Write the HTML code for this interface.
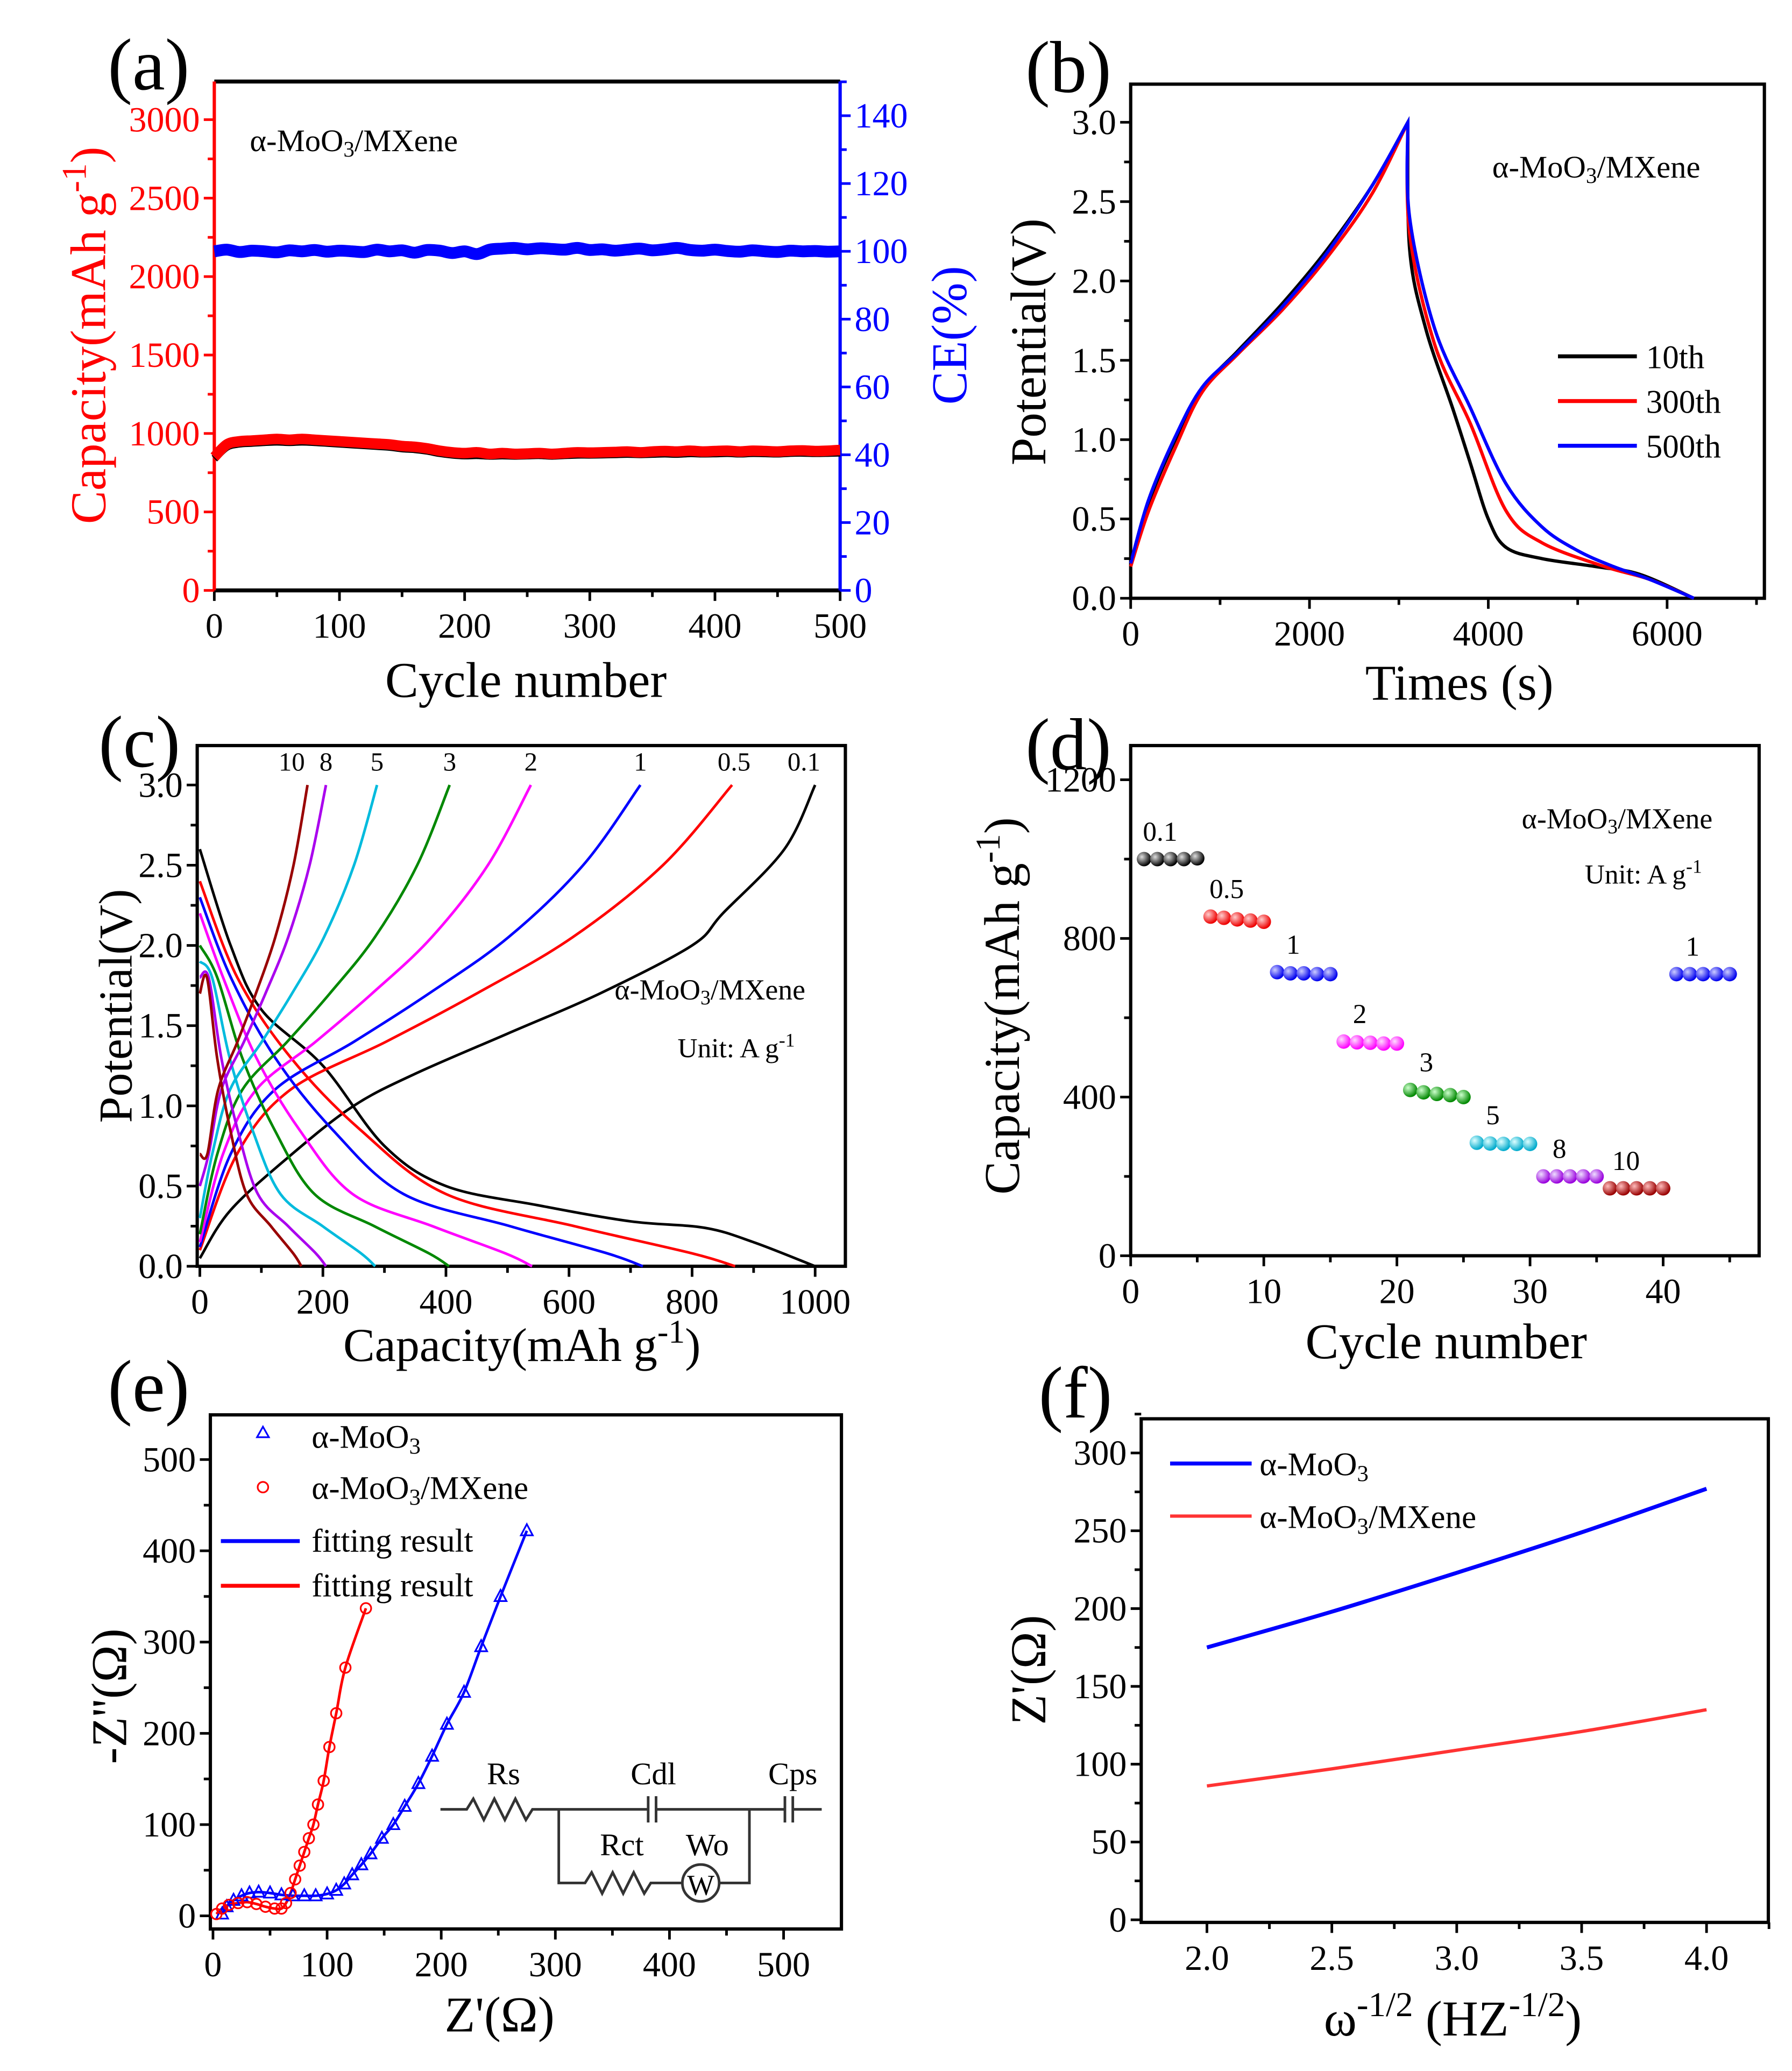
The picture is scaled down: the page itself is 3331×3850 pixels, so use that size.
<!DOCTYPE html>
<html><head><meta charset="utf-8">
<style>
html,body{margin:0;padding:0;background:#fff;}
svg{display:block;}
text{font-family:"Liberation Serif",serif;}
</style></head>
<body>
<svg id="fig" width="3331" height="3850" viewBox="0 0 1363 1575" preserveAspectRatio="none" xmlns="http://www.w3.org/2000/svg">
<defs>
<radialGradient id="gk" cx="35%" cy="35%" r="65%"><stop offset="0" stop-color="#ddd"/><stop offset="1" stop-color="#000"/></radialGradient>
<radialGradient id="gr" cx="35%" cy="35%" r="65%"><stop offset="0" stop-color="#fcc"/><stop offset="1" stop-color="#e00"/></radialGradient>
<radialGradient id="gb" cx="35%" cy="35%" r="65%"><stop offset="0" stop-color="#ccf"/><stop offset="1" stop-color="#00e"/></radialGradient>
<radialGradient id="gm" cx="35%" cy="35%" r="65%"><stop offset="0" stop-color="#fdf"/><stop offset="1" stop-color="#f0f"/></radialGradient>
<radialGradient id="gg" cx="35%" cy="35%" r="65%"><stop offset="0" stop-color="#cfc"/><stop offset="1" stop-color="#080"/></radialGradient>
<radialGradient id="gc" cx="35%" cy="35%" r="65%"><stop offset="0" stop-color="#dff"/><stop offset="1" stop-color="#0ac"/></radialGradient>
<radialGradient id="gp" cx="35%" cy="35%" r="65%"><stop offset="0" stop-color="#edf"/><stop offset="1" stop-color="#90d"/></radialGradient>
<radialGradient id="gd" cx="35%" cy="35%" r="65%"><stop offset="0" stop-color="#fbb"/><stop offset="1" stop-color="#900"/></radialGradient>
</defs>
<g id="root"></g>
</svg>
<script>
// ---------- DATA ----------
// (a)
const aCycles = [0,10,20,30,40,50,60,70,80,90,100,110,120,130,140,150,160,170,180,190,200,210,220,230,240,250,260,270,280,290,300,310,320,330,340,350,360,370,380,390,400,410,420,430,440,450,460,470,480,490,500];
const aCapRed = [850,930,950,955,960,965,960,965,960,955,950,945,940,935,930,920,915,905,890,880,875,880,870,875,870,872,875,870,875,880,878,880,882,885,880,885,888,885,890,885,888,890,885,890,888,885,890,892,888,890,895];
const aCapBlack = [840,915,935,940,945,948,945,948,945,940,935,930,925,920,915,905,900,890,875,865,860,862,858,860,858,860,862,858,862,865,865,866,868,870,868,870,872,870,874,872,873,875,872,875,874,872,876,877,875,876,878];
const aCE = [100,100.5,99.8,100.2,100,99.7,100.3,100,100.4,99.9,100.2,100,99.8,100.5,100,100.3,99.6,100.4,100.2,99.5,100,99.2,100.5,100.8,101,100.6,100.9,100.7,100.5,101,100.4,100.6,100.2,100.5,100.8,100.3,100.6,101,100.4,100.2,100.5,100.1,99.9,100.3,100,99.8,100.2,100,100.1,99.9,100];
// (b)
const bChargeT = [0,200,500,800,1200,1700,2200,2700,3100];
const bChargeV10 = [0.2,0.6,1.0,1.32,1.56,1.86,2.2,2.6,3.0];
const bChargeV300 = [0.2,0.55,0.95,1.3,1.54,1.82,2.15,2.55,3.0];
const bChargeV500 = [0.22,0.62,1.02,1.33,1.55,1.84,2.18,2.6,3.0];
const bDisT10 = [3100,3120,3300,3600,3800,4000,4200,4600,5200,5700,6300];
const bDisV10 = [3.0,2.2,1.7,1.2,0.85,0.5,0.32,0.25,0.2,0.15,0];
const bDisT300 = [3100,3120,3400,3800,4200,4600,5300,5800,6300];
const bDisV300 = [3.0,2.3,1.6,1.1,0.55,0.35,0.2,0.12,0];
const bDisT500 = [3100,3120,3400,3800,4200,4600,5000,5400,5800,6300];
const bDisV500 = [3.0,2.4,1.7,1.2,0.72,0.45,0.3,0.2,0.12,0];
// (c)
const cRates = ["0.1","0.5","1","2","3","5","8","10"];
const cColors = ["#000","#f00","#00f","#f0f","#080","#0bd","#a0e","#900"];
const cChargeCap = [1000,865,716,538,406,288,205,175];
const cDisCap = [1000,870,720,540,405,285,205,165];
const cChargeStartV = [0.05,0.1,0.12,0.15,0.2,0.3,0.5,0.7];
const cDisStartV = [2.6,2.4,2.3,2.2,2.0,1.9,1.8,1.7];
const cBlackChargeF = [0,0.05,0.15,0.25,0.35,0.5,0.65,0.8,0.85,0.95,1];
const cBlackChargeV = [0.05,0.35,0.7,1.0,1.2,1.45,1.7,2.0,2.2,2.6,3.0];
const cBlackDisF = [0,0.05,0.1,0.2,0.3,0.4,0.55,0.7,0.82,0.9,1];
const cBlackDisV = [2.6,2.0,1.6,1.25,0.75,0.5,0.38,0.28,0.24,0.15,0];
const cChargeF = [0,0.07,0.17,0.35,0.52,0.7,0.87,1];
const cChargeV = [0.1,0.7,1.1,1.4,1.7,2.05,2.5,3.0];
const cDisF = [0,0.07,0.17,0.3,0.46,0.7,0.92,1];
const cDisV = [2.4,1.8,1.3,0.85,0.45,0.25,0.08,0];
// (d)
const dCycles = [1,2,3,4,5,6,7,8,9,10,11,12,13,14,15,16,17,18,19,20,21,22,23,24,25,26,27,28,29,30,31,32,33,34,35,36,37,38,39,40,41,42,43,44,45];
const dCap = [1000,1000,1000,1000,1002,855,852,848,845,842,715,712,712,710,710,540,538,537,535,535,418,412,408,405,400,285,283,282,282,282,200,200,200,200,200,170,170,170,170,170,710,710,710,710,710];
const dGroupLabels = ["0.1","0.5","1","2","3","5","8","10","1"];
const dGroupFill = ["gk","gr","gb","gm","gg","gc","gp","gd","gb"];
// (e)
const eMoX = [8,12,18,25,32,40,50,60,70,80,90,100,108,115,122,130,138,148,158,168,180,192,205,220,235,252,275];
const eMoY = [2,10,17,22,25,26,25,23,22,22,22,24,28,35,45,56,68,85,100,120,145,175,210,245,295,350,422];
const eMxX = [3,8,14,22,30,38,46,54,60,64,68,72,76,80,84,88,92,97,102,108,116,134];
const eMxY = [2,8,12,14,15,13,10,8,8,14,25,40,55,70,85,100,122,148,185,222,272,337];
// (f)
const fX = [2.0,2.5,3.0,3.5,4.0];
const fMo = [175,198,223,249,277];
const fMx = [86,97,109,121,135];

// ---------- HELPERS ----------
const NS="http://www.w3.org/2000/svg";
const root=document.getElementById('root');
function el(tag,attrs,parent){const e=document.createElementNS(NS,tag);for(const k in attrs)e.setAttribute(k,attrs[k]);(parent||root).appendChild(e);return e;}
function lin(d0,d1,p0,p1){return v=>p0+(v-d0)*(p1-p0)/(d1-d0);}
function smooth(pts){if(pts.length<2)return'';let d='M'+pts[0][0]+','+pts[0][1];for(let i=0;i<pts.length-1;i++){const p0=pts[i-1]||pts[i],p1=pts[i],p2=pts[i+1],p3=pts[i+2]||p2;const c1=[p1[0]+(p2[0]-p0[0])/6,p1[1]+(p2[1]-p0[1])/6],c2=[p2[0]-(p3[0]-p1[0])/6,p2[1]-(p3[1]-p1[1])/6];d+=' C'+c1[0]+','+c1[1]+' '+c2[0]+','+c2[1]+' '+p2[0]+','+p2[1];}return d;}
function txt(x,y,s,size,attrs,parent){const t=el('text',Object.assign({x:x,y:y,'font-size':size},attrs||{}),parent);t.innerHTML=s;return t;}
function frame(L,R,T,B,g){el('rect',{x:L,y:T,width:R-L,height:B-T,fill:'none',stroke:'#000','stroke-width':2.5},g);}
function xTicks(sx,vals,minor,B,labels,g,color){color=color||'#000';
  vals.forEach((v,i)=>{const x=sx(v);el('line',{x1:x,y1:B,x2:x,y2:B+8,stroke:color,'stroke-width':2},g);const t=txt(x,B+36,labels[i],27,{'text-anchor':'middle',fill:color},g);});
  minor.forEach(v=>{const x=sx(v);el('line',{x1:x,y1:B,x2:x,y2:B+5,stroke:color,'stroke-width':2},g);});}
function yTicks(sy,vals,minor,L,labels,g,color,right){color=color||'#000';const s=right?1:-1;
  vals.forEach((v,i)=>{const y=sy(v);el('line',{x1:L,y1:y,x2:L+s*8,y2:y,stroke:color,'stroke-width':2},g);const t=txt(L+s*11,y+9,labels[i],27,{'text-anchor':right?'start':'end',fill:color},g);});
  minor.forEach(v=>{const y=sy(v);el('line',{x1:L,y1:y,x2:L+s*5,y2:y,stroke:color,'stroke-width':2},g);});}
function group(name){const g=el('g',{},root);return g;}
function vtitle(x,y,s,size,color,g,name){const t=txt(x,y,s,size,{'text-anchor':'middle',fill:color,transform:'rotate(-90 '+x+' '+y+')'},g);return t;}
function htitle(x,y,s,size,g,name){const t=txt(x,y,s,size,{'text-anchor':'middle',fill:'#000'},g);return t;}
const MOO='α-MoO<tspan baseline-shift="-25%" font-size="70%">3</tspan>/MXene';
const MOO1='α-MoO<tspan baseline-shift="-25%" font-size="70%">3</tspan>';
function range(a,b,s){const r=[];for(let v=a;v<=b+1e-9;v+=s)r.push(+v.toFixed(4));return r;}

// ---------- PANEL A ----------
(function(){const g=group('panel-a');const L=163,R=639,T=62,B=449;
 const sx=lin(0,500,L,R),syL=lin(0,3000,B,91),syR=lin(0,140,B,88);
 el('line',{x1:L,y1:T,x2:R,y2:T,stroke:'#000','stroke-width':3},g);
 el('line',{x1:L,y1:B,x2:R,y2:B,stroke:'#000','stroke-width':3},g);
 el('line',{x1:L,y1:T,x2:L,y2:B,stroke:'#f00','stroke-width':2.5},g);
 el('line',{x1:R,y1:T,x2:R,y2:B,stroke:'#00f','stroke-width':2.5},g);
 const ce=el('path',{d:smooth(aCycles.map((c,i)=>[sx(c),syR(aCE[i])])),fill:'none',stroke:'#00f','stroke-width':9},g);
 
 const pk=el('path',{d:smooth(aCycles.map((c,i)=>[sx(c),syL(aCapBlack[i])])),fill:'none',stroke:'#000','stroke-width':6},g);
 
 const pr=el('path',{d:smooth(aCycles.map((c,i)=>[sx(c),syL(aCapRed[i])])),fill:'none',stroke:'#f00','stroke-width':8},g);
 
 xTicks(sx,range(0,500,100),range(50,450,100),B,['0','100','200','300','400','500'],g);
 yTicks(syL,range(0,3000,500),range(250,3250,500).filter(v=>v<3200),L,['0','500','1000','1500','2000','2500','3000'],g,'#f00');
 yTicks(syR,range(0,140,20),range(10,150,20),R,['0','20','40','60','80','100','120','140'],g,'#00f',true);
 const n=txt(190,115,MOO,24,{},g);
 vtitle(80,255,'Capacity(mAh g<tspan baseline-shift="super" font-size="70%">-1</tspan>)',38,'#f00',g,'y-axis-title-capacity');
 vtitle(735,255,'CE(%)',38,'#00f',g,'y-axis-title-ce');
 htitle(400,530,'Cycle number',38,g,'x-axis-title');
 const p=txt(82,68,'(a)',56,{},g);
})();

// ---------- PANEL B ----------
(function(){const g=group('panel-b');const L=860,R=1342,T=64,B=455;
 const sx=lin(0,6000,L,1268),sy=lin(0,3,B,93);frame(L,R,T,B,g);
 const series=[[bChargeV10,bDisT10,bDisV10,'#000','curve-10th'],[bChargeV300,bDisT300,bDisV300,'#f00','curve-300th'],[bChargeV500,bDisT500,bDisV500,'#00f','curve-500th']];
 series.forEach(s=>{const c=bChargeT.map((t,i)=>[sx(t),sy(s[0][i])]);const d=s[1].map((t,i)=>[sx(t),sy(s[2][i])]);
  const p=el('path',{d:smooth(c)+' '+smooth(d).replace('M','L'),fill:'none',stroke:s[3],'stroke-width':2.5},g);});
 xTicks(sx,range(0,6000,2000),range(1000,7000,2000),B,['0','2000','4000','6000'],g);
 yTicks(sy,range(0,3,0.5),range(0.25,3.25,0.5).filter(v=>v<3.2),L,['0.0','0.5','1.0','1.5','2.0','2.5','3.0'],g);
 const n=txt(1135,135,MOO,24,{},g);
 [['10th','#000',271],['300th','#f00',305],['500th','#00f',339]].forEach(l=>{const e=el('line',{x1:1185,y1:l[2],x2:1245,y2:l[2],stroke:l[1],'stroke-width':3},g);const t=txt(1252,l[2]+9,l[0],25,{},g);});
 vtitle(795,260,'Potential(V)',38,'#000',g,'y-axis-title');
 htitle(1110,532,'Times (s)',38,g,'x-axis-title');
 const p=txt(780,70,'(b)',56,{},g);
})();

// ---------- PANEL C ----------
(function(){const g=group('panel-c');const L=150,R=643,T=567,B=963;
 const sx=lin(0,1000,152,620),sy=lin(0,3,B,597);frame(L,R,T,B,g);
 cRates.forEach((r,i)=>{const cf=i===0?cBlackChargeF:cChargeF,cv=i===0?cBlackChargeV:cChargeV,df=i===0?cBlackDisF:cDisF,dv=i===0?cBlackDisV:cDisV;
  const cp=cf.map((f,k)=>[sx(f*cChargeCap[i]),sy(k===0?cChargeStartV[i]:cv[k])]);
  const dp=df.map((f,k)=>[sx(f*cDisCap[i]),sy(k===0?cDisStartV[i]:dv[k])]);
  const a=el('path',{d:smooth(cp),fill:'none',stroke:cColors[i],'stroke-width':2},g);
  const b=el('path',{d:smooth(dp),fill:'none',stroke:cColors[i],'stroke-width':2},g);
  const t=txt(sx(cChargeCap[i])+(i===7?-12:(i===6?0:0))+ (i<2?-2:0),586,r,20,{'text-anchor':i<2?'end':'middle'},g);
  if(i<2)t.setAttribute('x',sx(cChargeCap[i])+(i===0?4:14));
  });
 xTicks(sx,range(0,1000,200),range(100,1000,200),B,['0','200','400','600','800','1000'],g);
 yTicks(sy,range(0,3,0.5),range(0.25,3.25,0.5).filter(v=>v<3.2),L,['0.0','0.5','1.0','1.5','2.0','2.5','3.0'],g);
 const n=txt(540,760,MOO,22,{'text-anchor':'middle'},g);
 const u=txt(560,804,'Unit: A g<tspan baseline-shift="super" font-size="70%">-1</tspan>',21,{'text-anchor':'middle'},g);
 vtitle(100,765,'Potential(V)',36,'#000',g,'y-axis-title');
 htitle(397,1035,'Capacity(mAh g<tspan baseline-shift="super" font-size="70%">-1</tspan>)',36,g,'x-axis-title');
 const p=txt(75,583,'(c)',56,{},g);
})();

// ---------- PANEL D ----------
(function(){const g=group('panel-d');const L=860,R=1338,T=567,B=955;
 const sx=lin(0,40,L,1265),sy=lin(0,1200,B,593);frame(L,R,T,B,g);
 dCycles.forEach((c,i)=>{const gi=Math.floor(i/5);const b=el('circle',{cx:sx(c),cy:sy(dCap[i]),r:5.5,fill:'url(#'+dGroupFill[gi]+')'},g);});
 dGroupLabels.forEach((l,gi)=>{const i0=gi*5;const cx=(sx(dCycles[i0])+sx(dCycles[i0+4]))/2;const t=txt(cx-8,sy(dCap[i0])-14,l,21,{'text-anchor':'middle'},g);});
 xTicks(sx,range(0,40,10),range(5,45,10),B,['0','10','20','30','40'],g);
 yTicks(sy,range(0,1200,400),range(200,1200,400),L,['0','400','800','1200'],g);
 const n=txt(1230,630,MOO,22,{'text-anchor':'middle'},g);
 const u=txt(1250,672,'Unit: A g<tspan baseline-shift="super" font-size="70%">-1</tspan>',21,{'text-anchor':'middle'},g);
 vtitle(775,765,'Capacity(mAh g<tspan baseline-shift="super" font-size="70%">-1</tspan>)',38,'#000',g,'y-axis-title');
 htitle(1100,1033,'Cycle number',38,g,'x-axis-title');
 const p=txt(780,585,'(d)',56,{},g);
})();

// ---------- PANEL E ----------
(function(){const g=group('panel-e');const L=160,R=640,T=1076,B=1467;
 const sx=lin(0,500,162,596),sy=lin(0,500,1457,1110);frame(L,R,T,B,g);
 const fb=el('path',{d:smooth(eMoX.map((x,i)=>[sx(x),sy(eMoY[i])])),fill:'none',stroke:'#00f','stroke-width':2},g);
 const fr=el('path',{d:smooth(eMxX.map((x,i)=>[sx(x),sy(eMxY[i])])),fill:'none',stroke:'#f00','stroke-width':2},g);
 eMoX.forEach((x,i)=>{const cx=sx(x),cy=sy(eMoY[i]);const m=el('path',{d:'M'+cx+','+(cy-5)+' L'+(cx+4.5)+','+(cy+3.5)+' L'+(cx-4.5)+','+(cy+3.5)+'Z',fill:'none',stroke:'#00f','stroke-width':1.3},g);});
 eMxX.forEach((x,i)=>{const m=el('circle',{cx:sx(x),cy:sy(eMxY[i]),r:4,fill:'none',stroke:'#f00','stroke-width':1.3},g);});
 xTicks(sx,range(0,500,100),range(50,550,100).filter(v=>v<540),B,['0','100','200','300','400','500'],g);
 yTicks(sy,range(0,500,100),range(50,550,100).filter(v=>v<540),L,['0','100','200','300','400','500'],g);
 const lt=el('path',{d:'M200,1085 L204.5,1093 L195.5,1093Z',fill:'none',stroke:'#00f','stroke-width':1.3},g);
 const lc=el('circle',{cx:200,cy:1131,r:4,fill:'none',stroke:'#f00','stroke-width':1.3},g);
 [[MOO1,1101],[MOO,1140],['fitting result',1180],['fitting result',1214]].forEach(l=>{const t=txt(237,l[1],l[0],25,{},g);});
 const l1=el('line',{x1:168,y1:1172,x2:228,y2:1172,stroke:'#00f','stroke-width':3},g);
 const l2=el('line',{x1:168,y1:1206,x2:228,y2:1206,stroke:'#f00','stroke-width':3},g);
 const c=el('g',{fill:'none',stroke:'#333','stroke-width':2},g);
 el('path',{d:'M335,1376 L355,1376 L360,1368 L368,1384 L376,1368 L384,1384 L392,1368 L400,1384 L405,1376 L493,1376 M499,1376 L597,1376 M603,1376 L625,1376 M425,1376 L425,1432 L445,1432 L450,1424 L458,1440 L466,1424 L474,1440 L482,1424 L490,1440 L495,1432 L519,1432 M547,1432 L570,1432 L570,1376 M493,1366 L493,1386 M499,1366 L499,1386 M597,1366 L597,1386 M603,1366 L603,1386'},c);
 el('circle',{cx:533,cy:1432,r:14},c);
 [['Rs',383,1357],['Cdl',497,1357],['Cps',603,1357],['Rct',473,1411],['Wo',538,1411],['W',533,1441]].forEach(l=>{const t=txt(l[1],l[2],l[0],l[0]==='W'?22:24,{'text-anchor':'middle'},g);});
 vtitle(96,1290,'-Z\'\'(Ω)',38,'#000',g,'y-axis-title');
 htitle(380,1545,'Z\'(Ω)',38,g,'x-axis-title');
 const p=txt(82,1073,'(e)',56,{},g);
})();

// ---------- PANEL F ----------
(function(){const g=group('panel-f');const L=868,R=1345,T=1079,B=1462;
 const sx=lin(2,4,918,1298),sy=lin(0,300,1460,1105);frame(L,R,T,B,g);
 const b=el('path',{d:smooth(fX.map((x,i)=>[sx(x),sy(fMo[i])])),fill:'none',stroke:'#00f','stroke-width':3},g);
 const r=el('path',{d:smooth(fX.map((x,i)=>[sx(x),sy(fMx[i])])),fill:'none',stroke:'#f33','stroke-width':2.5},g);
 xTicks(sx,range(2,4,0.5),range(1.75,4.25,0.5).filter(v=>v>1.8&&v<4.3),B,['2.0','2.5','3.0','3.5','4.0'],g);
 yTicks(sy,range(0,300,50),range(25,325,50),L,['0','50','100','150','200','250','300'],g);
 const l1=el('line',{x1:890,y1:1113,x2:952,y2:1113,stroke:'#00f','stroke-width':3},g);
 const l2=el('line',{x1:890,y1:1153,x2:952,y2:1153,stroke:'#f33','stroke-width':2.5},g);
 const t1=txt(958,1122,MOO1,25,{},g);
 const t2=txt(958,1162,MOO,25,{},g);
 vtitle(795,1270,'Z\'(Ω)',38,'#000',g,'y-axis-title');
 htitle(1105,1548,'ω<tspan baseline-shift="super" font-size="70%">-1/2</tspan> (HZ<tspan baseline-shift="super" font-size="70%">-1/2</tspan>)',38,g,'x-axis-title');
 const p=txt(790,1078,'(f)',56,{},g);
})();
</script>
</body></html>
